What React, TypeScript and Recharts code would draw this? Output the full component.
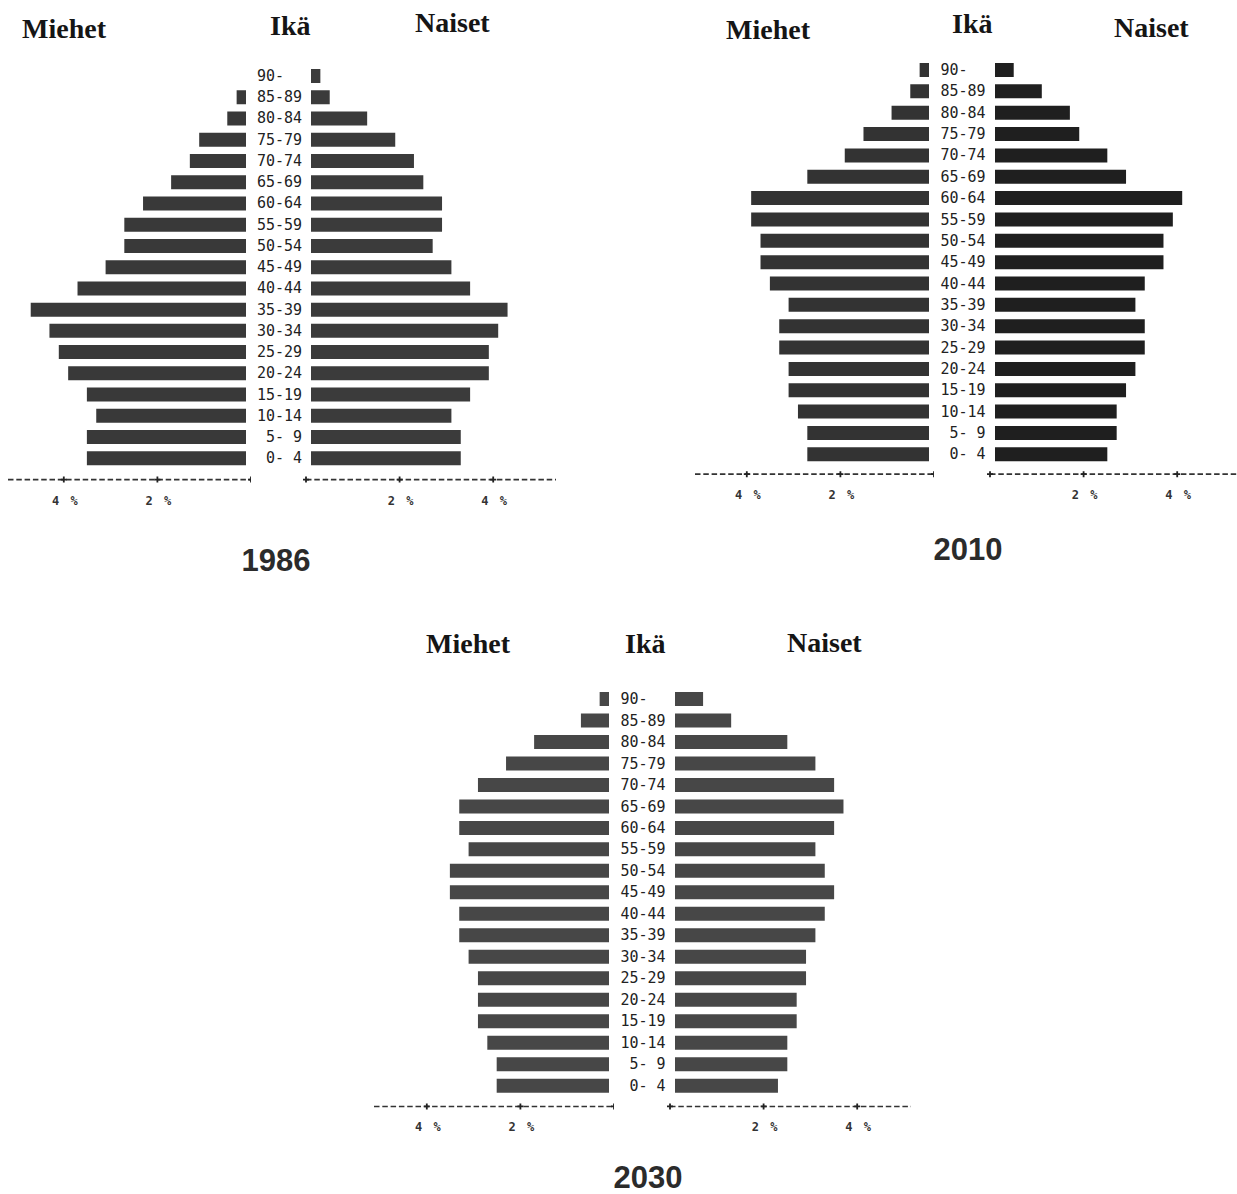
import React from "react";
import { BarChart, Bar, XAxis, YAxis } from "recharts";

// ---------- data ----------
const ages = [
  "90-", "85-89", "80-84", "75-79", "70-74", "65-69", "60-64", "55-59", "50-54",
  "45-49", "40-44", "35-39", "30-34", "25-29", "20-24", "15-19", "10-14", "5- 9", "0- 4",
];

const men1986 = [0, 0.2, 0.4, 1.0, 1.2, 1.6, 2.2, 2.6, 2.6, 3.0, 3.6, 4.6, 4.2, 4.0, 3.8, 3.4, 3.2, 3.4, 3.4];
const women1986 = [0.2, 0.4, 1.2, 1.8, 2.2, 2.4, 2.8, 2.8, 2.6, 3.0, 3.4, 4.2, 4.0, 3.8, 3.8, 3.4, 3.0, 3.2, 3.2];

const men2010 = [0.2, 0.4, 0.8, 1.4, 1.8, 2.6, 3.8, 3.8, 3.6, 3.6, 3.4, 3.0, 3.2, 3.2, 3.0, 3.0, 2.8, 2.6, 2.6];
const women2010 = [0.4, 1.0, 1.6, 1.8, 2.4, 2.8, 4.0, 3.8, 3.6, 3.6, 3.2, 3.0, 3.2, 3.2, 3.0, 2.8, 2.6, 2.6, 2.4];

const men2030 = [0.2, 0.6, 1.6, 2.2, 2.8, 3.2, 3.2, 3.0, 3.4, 3.4, 3.2, 3.2, 3.0, 2.8, 2.8, 2.8, 2.6, 2.4, 2.4];
const women2030 = [0.6, 1.2, 2.4, 3.0, 3.4, 3.6, 3.4, 3.0, 3.2, 3.4, 3.2, 3.0, 2.8, 2.8, 2.6, 2.6, 2.4, 2.4, 2.2];

const xTicks = [0, 2, 4];
const titleMen = "Miehet";
const titleAge = "Ikä";
const titleWomen = "Naiset";

// ---------- layout ----------
const PX = 46.8; // pixels per percent
const OFF = 5; // gap between axis zero and bar baseline
const AX_H = 40;

type Layout = {
  year: string;
  men: number[];
  women: number[];
  zeroL: number;
  zeroR: number;
  leftStart: number;
  rightEnd: number;
  row0: number;
  step: number;
  axisY: number;
  fillL: string;
  fillR: string;
  titleY: [number, number, number];
  titleX: [number, number, number];
  yearX: number;
  yearY: number;
};

const layouts: Layout[] = [
  {
    year: "1986", men: men1986, women: women1986,
    zeroL: 251, zeroR: 306, leftStart: 8, rightEnd: 556,
    row0: 76, step: 21.24, axisY: 480,
    fillL: "#393939", fillR: "#3b3b3b",
    titleX: [22, 270, 415], titleY: [38, 35, 32],
    yearX: 276, yearY: 571,
  },
  {
    year: "2010", men: men2010, women: women2010,
    zeroL: 934, zeroR: 990, leftStart: 695, rightEnd: 1237,
    row0: 70, step: 21.35, axisY: 474.5,
    fillL: "#333333", fillR: "#1f1f1f",
    titleX: [726, 952, 1114], titleY: [39, 33, 37],
    yearX: 968, yearY: 560,
  },
  {
    year: "2030", men: men2030, women: women2030,
    zeroL: 614, zeroR: 670, leftStart: 374, rightEnd: 911,
    row0: 699, step: 21.48, axisY: 1106.7,
    fillL: "#474747", fillR: "#474747",
    titleX: [426, 625, 787], titleY: [653, 653, 652],
    yearX: 648, yearY: 1188,
  },
];

const fmtAge = (a: string) => {
  const s = a.length < 5 ? (a.endsWith("-") ? a.padEnd(5, " ") : a.padStart(5, " ")) : a;
  return s.replace(/ /g, "\u00A0");
};

const makeXTick = (dir: number) => (props: any) => {
  const { x, y, payload } = props;
  const cx = x + dir * OFF;
  return (
    <g>
      <path
        d={`M${cx - 3},${y}H${cx + 3}M${cx},${y - 3}V${y + 3}`}
        stroke="#222"
        strokeWidth={1.8}
      />
      {payload.value !== 0 && (
        <text
          x={cx + 2}
          y={y + 25}
          textAnchor="middle"
          fontFamily="'DejaVu Sans Mono', monospace"
          fontWeight="bold"
          fontSize={12}
          letterSpacing={2}
          fill="#333"
        >
          {`${payload.value} %`}
        </text>
      )}
    </g>
  );
};

const makeAgeTick = (cx: number) => (props: any) => {
  const { y, payload } = props;
  return (
    <text
      x={cx}
      y={y}
      dy="0.36em"
      textAnchor="middle"
      fontFamily="'DejaVu Sans Mono', monospace"
      fontSize={15}
      fill="#222"
    >
      {fmtAge(payload.value)}
    </text>
  );
};

const axisLineStyle = { stroke: "#333", strokeWidth: 1.6, strokeDasharray: "5.5 2.8" };

function Pyramid({ L }: { L: Layout }) {
  const data = ages.map((age, i) => ({ age, m: L.men[i], f: L.women[i] }));
  const top = L.row0 - L.step / 2;
  const bandsH = ages.length * L.step;
  const padB = L.axisY - (top + bandsH);
  const H = bandsH + padB + AX_H;
  const offPct = OFF / PX;

  const leftW = L.zeroL - L.leftStart;
  const leftMax = leftW / PX - offPct;

  const yW = L.zeroR - L.zeroL;
  const rightPlotW = L.rightEnd - L.zeroR;
  const rightMax = rightPlotW / PX - offPct;
  const labelCx = (L.zeroL + L.zeroR) / 2 - L.zeroL + 1;

  return (
    <>
      <div style={{ position: "absolute", left: L.leftStart, top, width: leftW, height: H }}>
        <BarChart
          width={leftW}
          height={H}
          data={data}
          layout="vertical"
          margin={{ top: 0, right: 0, bottom: 0, left: 0 }}
        >
          <XAxis
            type="number"
            reversed
            domain={[-offPct, leftMax]}
            allowDataOverflow
            ticks={xTicks}
            tickSize={0}
            tickMargin={0}
            tickLine={false}
            axisLine={axisLineStyle}
            tick={makeXTick(1)}
            height={AX_H}
            interval={0}
          />
          <YAxis type="category" dataKey="age" hide width={0} padding={{ top: 0, bottom: padB }} />
          <Bar dataKey="m" fill={L.fillL} barSize={14} isAnimationActive={false} />
        </BarChart>
      </div>
      <div style={{ position: "absolute", left: L.zeroL, top, width: yW + rightPlotW, height: H }}>
        <BarChart
          width={yW + rightPlotW}
          height={H}
          data={data}
          layout="vertical"
          margin={{ top: 0, right: 0, bottom: 0, left: 0 }}
        >
          <XAxis
            type="number"
            domain={[-offPct, rightMax]}
            allowDataOverflow
            ticks={xTicks}
            tickSize={0}
            tickMargin={0}
            tickLine={false}
            axisLine={axisLineStyle}
            tick={makeXTick(-1)}
            height={AX_H}
            interval={0}
          />
          <YAxis
            type="category"
            dataKey="age"
            width={yW}
            axisLine={false}
            tickLine={false}
            tick={makeAgeTick(labelCx)}
            interval={0}
            padding={{ top: 0, bottom: padB }}
          />
          <Bar dataKey="f" fill={L.fillR} barSize={14} isAnimationActive={false} />
        </BarChart>
      </div>
    </>
  );
}

export default function App() {
  return (
    <div
      style={{
        position: "absolute",
        left: 0,
        top: 0,
        width: 1237,
        height: 1194,
        overflow: "hidden",
        background: "#fff",
      }}
    >
      {layouts.map((L) => (
        <Pyramid key={L.year} L={L} />
      ))}
      <svg
        width={1237}
        height={1194}
        style={{ position: "absolute", left: 0, top: 0, pointerEvents: "none" }}
      >
        {layouts.map((L) => (
          <g key={L.year}>
            <text x={L.titleX[0]} y={L.titleY[0]} fontFamily="'Liberation Serif', serif" fontWeight="bold" fontSize={28} fill="#151515">
              {titleMen}
            </text>
            <text x={L.titleX[1]} y={L.titleY[1]} fontFamily="'Liberation Serif', serif" fontWeight="bold" fontSize={28} fill="#151515">
              {titleAge}
            </text>
            <text x={L.titleX[2]} y={L.titleY[2]} fontFamily="'Liberation Serif', serif" fontWeight="bold" fontSize={28} fill="#151515">
              {titleWomen}
            </text>
            <text x={L.yearX} y={L.yearY} textAnchor="middle" fontFamily="'Liberation Sans', Arial, sans-serif" fontWeight="bold" fontSize={31} fill="#2b2b2b">
              {L.year}
            </text>
          </g>
        ))}
      </svg>
    </div>
  );
}
